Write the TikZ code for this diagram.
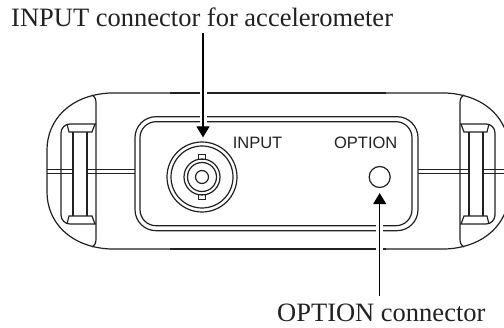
\documentclass[tikz,border=0pt]{standalone}
\usepackage{fontspec}
\setmainfont{Liberation Serif}
\setsansfont{Liberation Sans}
\usetikzlibrary{arrows.meta}
\definecolor{inkline}{gray}{0.13}
\tikzstyle{body} = [draw=inkline, line width=1.2pt]
\tikzstyle{ring} = [draw=inkline, line width=1.2pt, circle, inner sep=0pt]
\tikzstyle{panel} = [draw=inkline, line width=1.2pt, fill=white, rectangle, inner sep=0pt]
\tikzstyle{callout} = [text=inkline, font=\fontsize{26.5}{30}\selectfont]
\tikzstyle{tag} = [text=inkline, inner sep=0pt, font=\fontsize{16.5}{20}\sffamily]
\tikzstyle{arrow} = [draw=black, line width=1.2pt, -{Triangle[width=13pt,length=11pt]},
preaction={draw=white, line width=7pt, -}]

\begin{document}
\begin{tikzpicture}[x=1pt,y=-1pt]
                        \useasboundingbox (0,0) rectangle (504,328);
                        % the two ends of the case are mirror images
                        \foreach \flip in {1,-1} {
                            \begin{scope}[shift={(278,0)},xscale=\flip]
                                \draw[body] (-100,93) -- (-168,93) .. controls (-208,95) and (-231,120) .. (-231,150)
                                    -- (-231,192) .. controls (-231,222) and (-208,247) .. (-168,249) -- (-100,249);
                                \draw[body] (-186,95) .. controls (-183,97) and (-182,99) .. (-182,103) -- (-182,239)
                                    .. controls (-182,243) and (-183,245) .. (-186,247);
                                \draw[body,rounded corners=9] (-182,124) -- (-217,124) -- (-217,224) -- (-182,224);
                                \draw[body] (-211,124) -- (-209,132) -- (-186,132) -- (-183,124);
                                \draw[body] (-211,224) -- (-209,216) -- (-186,216) -- (-183,224);
                                \draw[body] (-205,132) -- (-205,216);
                                \draw[body] (-191,132) -- (-191,216);
                                \draw[body] (-231,169.3) -- (-205,169.3);
                                \draw[body] (-231,173.3) -- (-205,173.3);
                                \draw[body] (-191,169.3) -- (-130,169.3);
                                \draw[body] (-191,173.3) -- (-130,173.3);
                            \end{scope}
                        }
                        \draw[body] (170,93) -- (386,93);
                        \draw[body] (170,249) -- (386,249);
                        \node[panel,rounded corners=21,minimum width=283,minimum height=114] (outerpanel) at (276.5,173.7) {};
                        \node[panel,rounded corners=16,minimum width=272,minimum height=104] (innerpanel) at (276,173.7) {};
                        \node[ring,minimum size=70] (bnc) at (202,177) {};
                        \node[ring,minimum size=62] (bncrim) at (202,177) {};
                        \node[ring,minimum size=36] (bncbody) at (202,177) {};
                        \node[ring,minimum size=29] (bncshell) at (202,177) {};
                        \node[ring,minimum size=13] (bncpin) at (202,177) {};
                        \node[draw=inkline,line width=1.2pt,minimum width=7.5,minimum height=5,inner sep=0pt] (bnctop) at (202,157) {};
                        \node[draw=inkline,line width=1.2pt,minimum width=7.5,minimum height=5,inner sep=0pt] (bncbottom) at (202,197) {};
                        \node[ring,minimum size=21] (optionjack) at (379.7,177) {};
                        \node[tag] (inputtag) at (257.5,143) {INPUT};
                        \node[tag] (optiontag) at (365.7,143) {OPTION};
                        \node[callout,anchor=base west,inner sep=0pt] (inputtext) at (11,27) {INPUT connector for accelerometer};
                        \node[callout,anchor=base west,inner sep=0pt] (optiontext) at (277,322) {OPTION connector};
                        \coordinate (inputstart) at (203,33);
                        \coordinate (optionstart) at (379.7,296);
                        \draw[arrow,shorten >=4pt] (inputstart) -- (inputstart |- bnc.north);
                        \draw[arrow,shorten >=5pt] (optionstart) -- (optionjack.south);
                    \end{tikzpicture}
\end{document}
